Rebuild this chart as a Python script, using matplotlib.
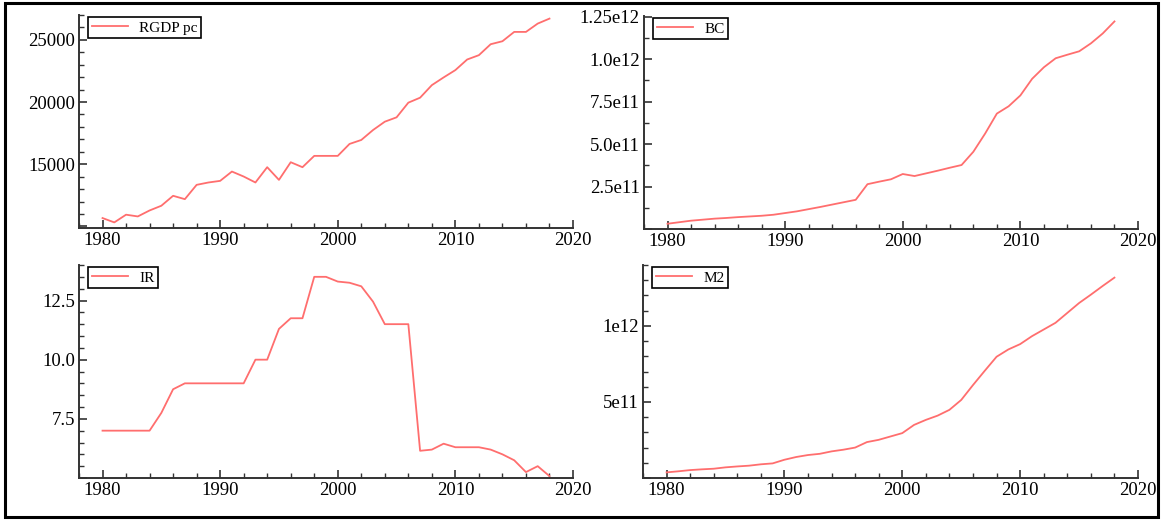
import matplotlib.pyplot as plt
from matplotlib.ticker import MultipleLocator, FuncFormatter
from matplotlib.patches import Rectangle

plt.rcParams['font.family'] = ['Liberation Serif', 'DejaVu Serif']

years = list(range(1980, 2019))

rgdp_pc = [10670, 10320, 10940, 10800, 11280, 11660, 12460, 12190, 13340, 13530,
           13660, 14410, 14010, 13530, 14760, 13740, 15160, 14760, 15670, 15670,
           15670, 16630, 16950, 17750, 18420, 18770, 19950, 20350, 21360, 21980,
           22570, 23420, 23770, 24650, 24890, 25640, 25640, 26310, 26710]

# bank credit, in 1e12
bc = [0.031, 0.040, 0.049, 0.055, 0.061, 0.065, 0.070, 0.074, 0.078, 0.084,
      0.094, 0.104, 0.117, 0.130, 0.144, 0.158, 0.172, 0.264, 0.279, 0.293,
      0.324, 0.312, 0.328, 0.344, 0.361, 0.377, 0.455, 0.562, 0.680, 0.723,
      0.787, 0.885, 0.953, 1.006, 1.027, 1.047, 1.094, 1.152, 1.223]

ir = [7.0, 7.0, 7.0, 7.0, 7.0, 7.75, 8.75, 9.0, 9.0, 9.0,
      9.0, 9.0, 9.0, 10.0, 10.0, 11.3, 11.75, 11.75, 13.5, 13.5,
      13.3, 13.25, 13.1, 12.45, 11.5, 11.5, 11.5, 6.15, 6.2, 6.45,
      6.3, 6.3, 6.3, 6.2, 6.0, 5.75, 5.25, 5.5, 5.08]

# broad money, in 1e12
m2 = [0.037, 0.044, 0.052, 0.057, 0.061, 0.070, 0.076, 0.081, 0.090, 0.096,
      0.120, 0.138, 0.151, 0.159, 0.175, 0.186, 0.200, 0.236, 0.251, 0.273,
      0.295, 0.349, 0.382, 0.410, 0.448, 0.513, 0.611, 0.705, 0.797, 0.845,
      0.880, 0.932, 0.976, 1.020, 1.085, 1.150, 1.205, 1.262, 1.317]

W, H = 1161, 521
fig = plt.figure(figsize=(W / 100, H / 100), dpi=100)

# outer frame
fig.patches.append(Rectangle((5 / W, 4 / H), 1153 / W, 514 / H, transform=fig.transFigure,
                             fill=False, edgecolor='black', linewidth=2.2))

line_color = '#ff6e6e'


def px_axes(left, top, right, bottom):
    return fig.add_axes([left / W, 1 - bottom / H, (right - left) / W, (bottom - top) / H])


def style(ax, label, ymin, ymax, ymajor, yminor, fmt):
    ax.set_xlim(1978, 2020)
    ax.set_ylim(ymin, ymax)
    for s in ['top', 'right']:
        ax.spines[s].set_visible(False)
    for s in ['left', 'bottom']:
        ax.spines[s].set_color('#333333')
        ax.spines[s].set_linewidth(1.4)
    ax.xaxis.set_major_locator(MultipleLocator(10))
    ax.xaxis.set_minor_locator(MultipleLocator(2))
    ax.yaxis.set_major_locator(MultipleLocator(ymajor))
    ax.yaxis.set_minor_locator(MultipleLocator(yminor))
    ax.yaxis.set_major_formatter(FuncFormatter(fmt))
    ax.tick_params(which='major', direction='in', length=6, width=1.2, color='#333333',
                   labelsize=13.5, pad=3)
    ax.tick_params(which='minor', direction='in', length=3.5, width=1.0, color='#333333')
    ax.patch.set_alpha(0)
    leg = ax.legend([label], loc='upper left', bbox_to_anchor=(0.018, 0.99), borderaxespad=0,
                    fontsize=11, handlelength=2.4, handletextpad=0.7, borderpad=0.25,
                    fancybox=False, framealpha=1)
    leg.get_frame().set_edgecolor('black')
    leg.get_frame().set_linewidth(1.2)


ax1 = px_axes(79, 15, 573, 228)
ax1.plot(years, rgdp_pc, color=line_color, lw=1.3)
style(ax1, 'RGDP pc', 9870, 27000, 5000, 1000, lambda v, p: '' if v < 12000 else '%d' % v)

ax2 = px_axes(644, 16, 1138, 229)
ax2.plot(years, [v * 1e12 for v in bc], color=line_color, lw=1.3)


def fmt_bc(v, p):
    return {0.25e12: '2.5e11', 0.5e12: '5.0e11', 0.75e12: '7.5e11',
            1.0e12: '1.0e12', 1.25e12: '1.25e12'}.get(round(v / 0.25e12) * 0.25e12, '')


style(ax2, 'BC', 0, 1.255e12, 0.25e12, 0.125e12, fmt_bc)

ax3 = px_axes(79, 265, 573, 478)
ax3.plot(years, ir, color=line_color, lw=1.3)
style(ax3, 'IR', 5.0, 14.0, 2.5, 0.5, lambda v, p: '' if v < 6 else '%.1f' % v)

ax4 = px_axes(643, 265, 1138, 478)
ax4.plot(years, [v * 1e12 for v in m2], color=line_color, lw=1.3)


def fmt_m2(v, p):
    return {5e11: '5e11', 1e12: '1e12'}.get(round(v / 5e11) * 5e11, '')


style(ax4, 'M2', 0, 1.4e12, 5e11, 1e11, fmt_m2)

fig.savefig('out.png', dpi=100)
